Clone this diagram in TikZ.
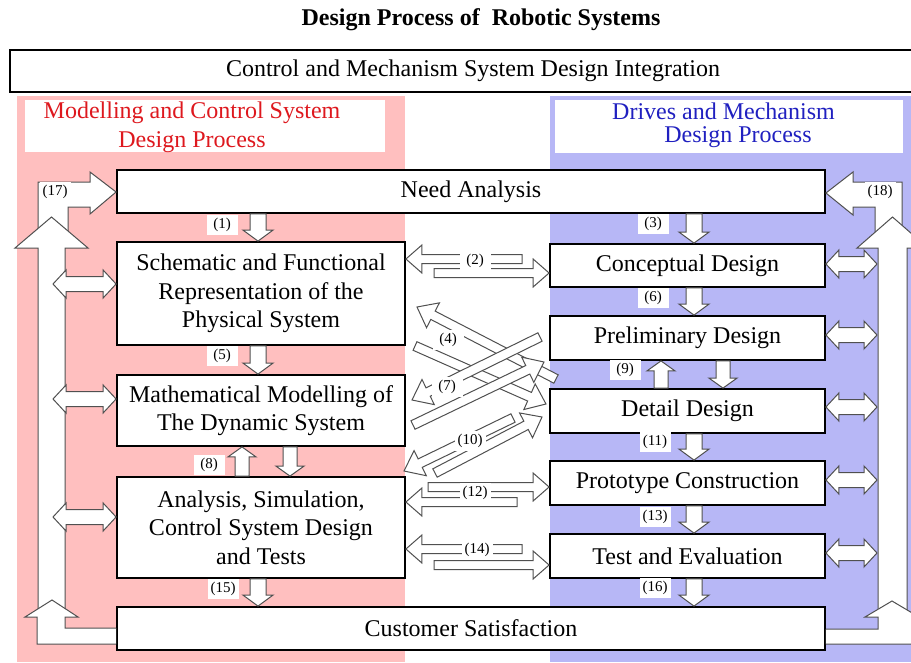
\documentclass[tikz,border=0pt]{standalone}
\usepackage{fontspec}
\setmainfont{Liberation Serif}
\usetikzlibrary{calc}

\definecolor{pinkzone}{RGB}{255,191,191}
\definecolor{bluezone}{RGB}{183,183,246}
\definecolor{redtext}{RGB}{222,24,30}
\definecolor{bluetext}{RGB}{32,32,192}
\definecolor{arrowline}{RGB}{80,80,80}

\tikzset{
  stage/.style={draw=black, line width=1.8pt, fill=white, inner sep=2pt, align=center,
                font=\fontsize{24}{28.5}\selectfont},
  blockarrow/.style={draw=arrowline, line width=1pt, fill=white, line join=miter},
  numtag/.style={fill=white, inner xsep=3pt, inner ysep=2pt, minimum width=31pt,
                 minimum height=20pt, font=\fontsize{15}{17}\selectfont},
  headtext/.style={font=\fontsize{24}{29}\selectfont, align=center, inner sep=0pt},
}

% single-headed block arrow: [options]{tail}{tip}{shaft half width}{head half width}{head length}
\newcommand\blockarr[6][]{%
  \path ($(#3)!#6!(#2)$) coordinate (bah);
  \draw[blockarrow,#1] ($(#2)!#4!90:(#3)$) -- ($(bah)!#4!90:(#3)$) -- ($(bah)!#5!90:(#3)$)
     -- (#3) -- ($(bah)!#5!-90:(#3)$) -- ($(bah)!#4!-90:(#3)$) -- ($(#2)!#4!-90:(#3)$) -- cycle;}

% double-headed block arrow: {end a}{end b}{shaft half width}{head half width}{head length}
\newcommand\twoheadarr[5]{%
  \path ($(#1)!#5!(#2)$) coordinate (bha) ($(#2)!#5!(#1)$) coordinate (bhb);
  \draw[blockarrow] (#1) -- ($(bha)!#4!90:(#2)$) -- ($(bha)!#3!90:(#2)$) -- ($(bhb)!#3!-90:(#1)$)
     -- ($(bhb)!#4!-90:(#1)$) -- (#2) -- ($(bhb)!#4!90:(#1)$) -- ($(bhb)!#3!90:(#1)$)
     -- ($(bha)!#3!-90:(#2)$) -- ($(bha)!#4!-90:(#2)$) -- cycle;}

\begin{document}
\begin{tikzpicture}[x=1pt,y=-1pt]
\clip (0,0) rectangle (911,662);
\fill[white] (0,0) rectangle (911,662);

% the two process zones and their heading panels
\fill[pinkzone] (17,96) rectangle (405,662);
\fill[bluezone] (550,96) rectangle (915,662);
\fill[white] (25,100) rectangle (385,152);
\fill[white] (555,100) rectangle (903,153);

\node[font=\fontsize{24}{28}\selectfont\bfseries] (title) at (481,20) {Design Process of\ \ Robotic Systems};
\node[draw=black, line width=1.6pt, minimum width=926pt, minimum height=42pt, inner sep=0pt,
      font=\fontsize{24}{28}\selectfont] (integ) at (473,71) {Control and Mechanism System Design Integration};

\node[headtext, text=redtext] (lhead) at (192,127.5) {Modelling and Control System\\Design Process};
\node[headtext, text=bluetext] (rhead1) at (723.5,111) {Drives and Mechanism};
\node[headtext, text=bluetext] (rhead2) at (738,137) {Design Process};

% process stages
\node[stage, minimum width=708pt, minimum height=43pt] (need) at (471,191.5) {Need Analysis};
\node[stage, minimum width=288pt, minimum height=103pt] (sch) at (261,293.5)
  {Schematic and Functional\\Representation of the\\Physical System};
\node[stage, minimum width=288pt, minimum height=71pt] (math) at (261,410.5)
  {Mathematical Modelling of\\The Dynamic System};
\node[stage, minimum width=288pt, minimum height=101pt] (ana) at (261,527.5)
  {Analysis, Simulation,\\Control System Design\\and Tests};
\node[stage, minimum width=708pt, minimum height=43pt] (cust) at (471,628.5) {Customer Satisfaction};
\node[stage, minimum width=275pt, minimum height=43pt] (conc) at (687.5,265.5) {Conceptual Design};
\node[stage, minimum width=275pt, minimum height=44pt] (prel) at (687.5,338) {Preliminary Design};
\node[stage, minimum width=275pt, minimum height=44pt] (det) at (687.5,411) {Detail Design};
\node[stage, minimum width=275pt, minimum height=44pt] (proto) at (687.5,483) {Prototype Construction};
\node[stage, minimum width=275pt, minimum height=44pt] (test) at (687.5,556) {Test and Evaluation};

% feedback loop (17) on the left
\draw[blockarrow] (38,236) -- (38,182) -- (90,182) -- (90,172) -- (need.west |- 0,192)
   -- (90,214) -- (90,207) -- (68,207) -- (68,236);
\coordinate (lbot) at (51.5,612);
\coordinate (ltop) at (51.5,217);
\blockarr{lbot}{ltop}{13.5pt}{36.5pt}{31pt}
\draw[blockarrow] (cust.west |- 0,628) -- (65,628) -- (65,617) -- (78,617) -- (52,600) -- (25,617)
   -- (37,617) -- (37,644) -- (cust.west |- 0,644);

% feedback loop (18) on the right
\draw[blockarrow] (875,236) -- (875,207) -- (853,207) -- (853,215) -- (need.east |- 0,193)
   -- (853,172) -- (853,182) -- (902,182) -- (902,236);
\coordinate (rbot) at (892.5,612);
\coordinate (rtop) at (892.5,217);
\blockarr{rbot}{rtop}{14.5pt}{35.5pt}{31pt}
\draw[blockarrow] (cust.east |- 0,629) -- (878,629) -- (878,617) -- (865,617) -- (892,601) -- (919,617)
   -- (913,617) -- (913,644) -- (cust.east |- 0,644);

% links between the loop and the stages
\coordinate (l1a) at (53,284);  \coordinate (l1b) at (sch.west |- 0,284);
\coordinate (l2a) at (53,399);  \coordinate (l2b) at (math.west |- 0,399);
\coordinate (l3a) at (53,517);  \coordinate (l3b) at (ana.west |- 0,517);
\twoheadarr{l1a}{l1b}{7.5pt}{14pt}{13pt}
\twoheadarr{l2a}{l2b}{7.5pt}{14pt}{13pt}
\twoheadarr{l3a}{l3b}{7.5pt}{14pt}{13pt}
\coordinate (r1a) at (conc.east |- 0,264);  \coordinate (r1b) at (877,264);
\coordinate (r2a) at (prel.east |- 0,335);  \coordinate (r2b) at (877,335);
\coordinate (r3a) at (det.east |- 0,407);   \coordinate (r3b) at (877,407);
\coordinate (r4a) at (proto.east |- 0,480); \coordinate (r4b) at (877,480);
\coordinate (r5a) at (test.east |- 0,553);  \coordinate (r5b) at (877,553);
\twoheadarr{r1a}{r1b}{7.5pt}{14pt}{13pt}
\twoheadarr{r2a}{r2b}{7.5pt}{14pt}{13pt}
\twoheadarr{r3a}{r3b}{7.5pt}{14pt}{13pt}
\twoheadarr{r4a}{r4b}{7.5pt}{14pt}{13pt}
\twoheadarr{r5a}{r5b}{7.5pt}{14pt}{13pt}

% flow down each column
\coordinate (v1a) at (258,0 |- need.south);  \coordinate (v1b) at (258,0 |- sch.north);
\coordinate (v5a) at (258,0 |- sch.south);   \coordinate (v5b) at (258,0 |- math.north);
\coordinate (v15a) at (258,0 |- ana.south);  \coordinate (v15b) at (258,0 |- cust.north);
\coordinate (v3a) at (694,0 |- need.south);  \coordinate (v3b) at (694,0 |- conc.north);
\coordinate (v6a) at (694,0 |- conc.south);  \coordinate (v6b) at (694,0 |- prel.north);
\coordinate (v11a) at (694,0 |- det.south);  \coordinate (v11b) at (694,0 |- proto.north);
\coordinate (v13a) at (694,0 |- proto.south);\coordinate (v13b) at (694,0 |- test.north);
\coordinate (v16a) at (694,0 |- test.south); \coordinate (v16b) at (694,0 |- cust.north);
\blockarr{v1a}{v1b}{8pt}{15pt}{11pt}
\blockarr{v5a}{v5b}{8pt}{15pt}{11pt}
\blockarr{v15a}{v15b}{8pt}{15pt}{11pt}
\blockarr{v3a}{v3b}{8pt}{15pt}{11pt}
\blockarr{v6a}{v6b}{8pt}{15pt}{11pt}
\blockarr{v11a}{v11b}{8pt}{15pt}{11pt}
\blockarr{v13a}{v13b}{8pt}{15pt}{11pt}
\blockarr{v16a}{v16b}{8pt}{15pt}{11pt}

% iteration pairs (8) and (9)
\coordinate (u8a) at (242,0 |- ana.north);  \coordinate (u8b) at (242,0 |- math.south);
\coordinate (d8a) at (290,0 |- math.south); \coordinate (d8b) at (290,0 |- ana.north);
\coordinate (u9a) at (661,0 |- det.north);  \coordinate (u9b) at (661,0 |- prel.south);
\coordinate (d9a) at (723,0 |- prel.south); \coordinate (d9b) at (723,0 |- det.north);
\blockarr{u8a}{u8b}{7pt}{14pt}{10pt}
\blockarr{d8a}{d8b}{7pt}{14pt}{10pt}
\blockarr{u9a}{u9b}{7pt}{14pt}{10pt}
\blockarr{d9a}{d9b}{7pt}{14pt}{10pt}

% exchanges between the two columns
\coordinate (x2a) at (522,259); \coordinate (x2b) at (sch.east |- 0,259);
\coordinate (x2c) at (434,273); \coordinate (x2d) at (conc.west |- 0,273);
\coordinate (x12a) at (428,487); \coordinate (x12b) at (proto.west |- 0,487);
\coordinate (x12c) at (517,502); \coordinate (x12d) at (ana.east |- 0,502);
\coordinate (x14a) at (522,549); \coordinate (x14b) at (ana.east |- 0,549);
\coordinate (x14c) at (434,565); \coordinate (x14d) at (test.west |- 0,565);
\blockarr{x2a}{x2b}{4.5pt}{14pt}{16pt}
\blockarr{x2c}{x2d}{4.5pt}{14pt}{16pt}
\blockarr{x12a}{x12b}{4.5pt}{14pt}{16pt}
\blockarr{x12c}{x12d}{4.5pt}{14pt}{16pt}
\blockarr{x14a}{x14b}{4.5pt}{14pt}{16pt}
\blockarr{x14c}{x14d}{4.5pt}{14pt}{16pt}

% diagonal exchanges (4), (7), (10)
\coordinate (g4a) at (556,379); \coordinate (g4b) at (417,307);
\coordinate (g4c) at (415,346); \coordinate (g4d) at (546,404);
\coordinate (g7a) at (540,337); \coordinate (g7b) at (412,400);
\coordinate (g7c) at (413,425); \coordinate (g7d) at (544,362);
\coordinate (g10a) at (513,418); \coordinate (g10b) at (404,471);
\coordinate (g10c) at (435,473); \coordinate (g10d) at (542,417);
\blockarr{g4a}{g4b}{4.7pt}{14pt}{18pt}
\blockarr{g4c}{g4d}{4.7pt}{14pt}{18pt}
\blockarr{g7a}{g7b}{4.7pt}{14pt}{18pt}
\blockarr{g7c}{g7d}{4.7pt}{14pt}{18pt}
\blockarr{g10a}{g10b}{4.7pt}{14pt}{18pt}
\blockarr{g10c}{g10d}{4.7pt}{14pt}{18pt}

% step numbers
\node[numtag] (n1) at (222,225) {(1)};
\node[numtag] (n2) at (475,261) {(2)};
\node[numtag] (n3) at (653,224) {(3)};
\node[numtag] (n4) at (448,340) {(4)};
\node[numtag] (n5) at (222,356) {(5)};
\node[numtag] (n6) at (653,298) {(6)};
\node[numtag] (n7) at (447,387) {(7)};
\node[numtag] (n8) at (209,465) {(8)};
\node[numtag] (n9) at (625,370) {(9)};
\node[numtag] (n10) at (470,441) {(10)};
\node[numtag] (n11) at (655,442) {(11)};
\node[numtag] (n12) at (475,493) {(12)};
\node[numtag] (n13) at (655,517) {(13)};
\node[numtag] (n14) at (477,550) {(14)};
\node[numtag] (n15) at (223,589) {(15)};
\node[numtag] (n16) at (655,588) {(16)};
\node[numtag] (n17) at (55,192) {(17)};
\node[numtag] (n18) at (880,192) {(18)};
\end{tikzpicture}
\end{document}
